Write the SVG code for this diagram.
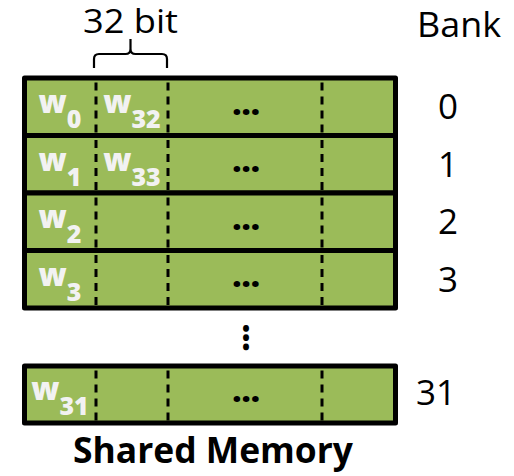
<svg xmlns="http://www.w3.org/2000/svg" width="514" height="476" viewBox="0 0 514 476">
<style>
.row{fill:#9BBB59;stroke:#000;stroke-width:5;stroke-linejoin:round}
.dash{stroke:#000;stroke-width:3;stroke-dasharray:8 6;fill:none}
.w{font-family:"Open Sans","Noto Sans","DejaVu Sans",sans-serif;font-weight:800;font-size:31px;fill:#F2F2F2;text-anchor:middle}
.w tspan{font-size:25px}
.dots{font-family:"Open Sans","Noto Sans","DejaVu Sans",sans-serif;font-weight:800;font-size:32px;fill:#000;text-anchor:middle}
.num{font-family:"Open Sans","Noto Sans","DejaVu Sans",sans-serif;font-size:35px;fill:#000;text-anchor:middle}
.lbl{font-family:"Open Sans","Noto Sans","DejaVu Sans",sans-serif;font-size:32px;fill:#000;text-anchor:middle}
.title{font-family:"Open Sans","Noto Sans","DejaVu Sans",sans-serif;font-weight:bold;font-size:35px;fill:#000;text-anchor:middle}
</style>
<g id="header">
  <text class="lbl" x="130.5" y="33" textLength="95" lengthAdjust="spacingAndGlyphs">32 bit</text>
  <text class="num" x="459" y="37" textLength="84" lengthAdjust="spacingAndGlyphs">Bank</text>
</g>
<g id="connectors">
  <path d="M94,68 V59 Q94,54 99,54 H125.5 Q130.5,54 130.5,49 V39 M130.5,49 Q130.5,54 135.5,54 H162 Q167,54 167,59 V68" fill="none" stroke="#000" stroke-width="2.2"/>
</g>
<g id="bank0">
  <rect class="row" x="24.5" y="78" width="371" height="57.5"/>
  <path class="dash" d="M96,82.5 V133 M168,82.5 V133 M322,82.5 V133"/>
  <text class="w" x="60" y="113">w<tspan dy="15">0</tspan></text>
  <text class="w" x="132" y="113">w<tspan dy="15">32</tspan></text>
  <text class="dots" x="246" y="115">…</text>
  <text class="num" x="448" y="119">0</text>
</g>
<g id="bank1">
  <rect class="row" x="24.5" y="135.5" width="371" height="57.5"/>
  <path class="dash" d="M96,140 V190.5 M168,140 V190.5 M322,140 V190.5"/>
  <text class="w" x="60" y="170.5">w<tspan dy="15">1</tspan></text>
  <text class="w" x="132" y="170.5">w<tspan dy="15">33</tspan></text>
  <text class="dots" x="246" y="172">…</text>
  <text class="num" x="448" y="176.5">1</text>
</g>
<g id="bank2">
  <rect class="row" x="24.5" y="193" width="371" height="57.5"/>
  <path class="dash" d="M96,197.5 V248 M168,197.5 V248 M322,197.5 V248"/>
  <text class="w" x="60" y="228">w<tspan dy="15">2</tspan></text>
  <text class="dots" x="246" y="230">…</text>
  <text class="num" x="448" y="234">2</text>
</g>
<g id="bank3">
  <rect class="row" x="24.5" y="250.5" width="371" height="57.5"/>
  <path class="dash" d="M96,255 V305.5 M168,255 V305.5 M322,255 V305.5"/>
  <text class="w" x="60" y="285.5">w<tspan dy="15">3</tspan></text>
  <text class="dots" x="246" y="287">…</text>
  <text class="num" x="448" y="291.5">3</text>
</g>
<g id="vdots">
  <text class="dots" transform="translate(247,337.5) rotate(90)" x="0" y="4">…</text>
</g>
<g id="bank31">
  <rect class="row" x="24.5" y="366" width="371" height="57"/>
  <path class="dash" d="M96,370.5 V420.5 M168,370.5 V420.5 M322,370.5 V420.5"/>
  <text class="w" x="60" y="400">w<tspan dy="15">31</tspan></text>
  <text class="dots" x="246" y="402">…</text>
  <text class="num" x="436" y="405">31</text>
</g>
<g id="caption">
  <text class="title" x="213" y="463" textLength="280" lengthAdjust="spacingAndGlyphs">Shared Memory</text>
</g>
</svg>
